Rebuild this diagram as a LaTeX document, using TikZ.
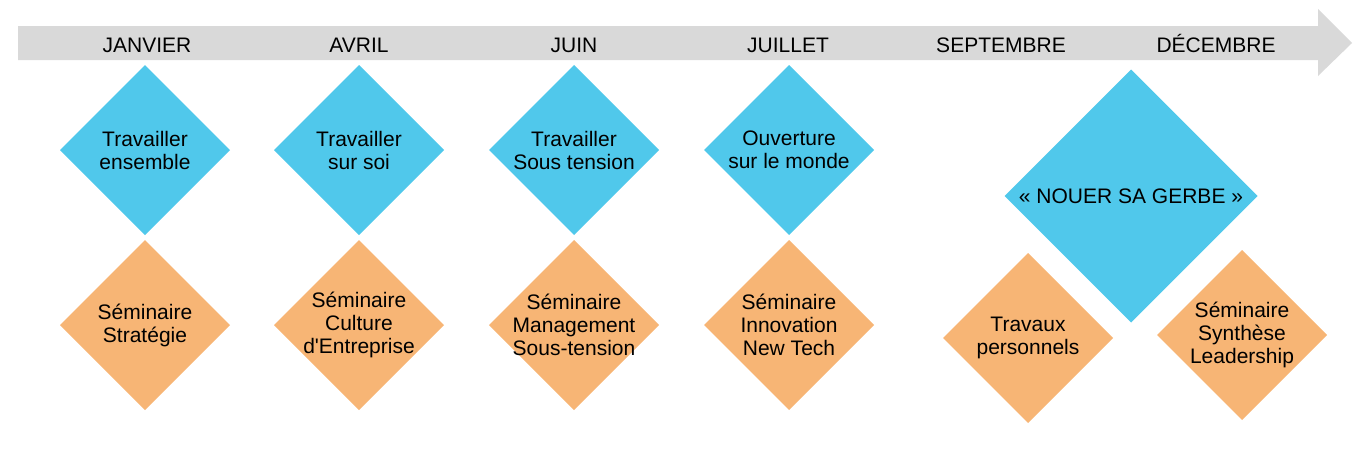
\documentclass[tikz,border=0pt]{standalone}
\usepackage{fontspec}
\setmainfont{Liberation Sans}[Ligatures=TeXOff]
\usetikzlibrary{shapes.geometric}
\definecolor{gemblue}{RGB}{80,200,235}
\definecolor{gemorange}{RGB}{247,181,117}
\definecolor{timegray}{RGB}{217,217,217}

\begin{document}
\begin{tikzpicture}[x=1pt, y=-1pt,
    gem/.style={diamond, minimum width=170pt, minimum height=170pt, inner sep=0pt, outer sep=0pt},
    biggem/.style={diamond, minimum width=253pt, minimum height=253pt, inner sep=0pt, outer sep=0pt},
    gemtext/.style={align=center, inner sep=0pt, font=\fontsize{21}{23}\selectfont},
    month/.style={anchor=base, inner sep=0pt, font=\fontsize{21}{23}\selectfont}]
    \useasboundingbox (0,0) rectangle (1371,461);

    % Timeline arrow
    \fill[timegray] (18,26) -- (1318,26) -- (1318,9) -- (1352,43) -- (1318,76) -- (1318,60) -- (18,60) -- cycle;

    % Months
    \node[month] (jan) at (147,52) {JANVIER};
    \node[month] (apr) at (359,52) {AVRIL};
    \node[month] (jun) at (574,52) {JUIN};
    \node[month] (jul) at (788,52) {JUILLET};
    \node[month] (sep) at (1001,52) {SEPTEMBRE};
    \node[month] (dec) at (1216,52) {DÉCEMBRE};

    % Themes
    \node[gem, fill=gemblue] (jan-theme) at (145,150) {};
    \node[gemtext] (jan-theme-txt) at (jan-theme) {Travailler\\ensemble};
    \node[gem, fill=gemblue] (apr-theme) at (359,150) {};
    \node[gemtext] (apr-theme-txt) at (apr-theme) {Travailler\\sur soi};
    \node[gem, fill=gemblue] (jun-theme) at (574,150) {};
    \node[gemtext] (jun-theme-txt) at (jun-theme) {Travailler\\Sous tension};
    \node[gem, fill=gemblue] (jul-theme) at (789,150) {};
    \node[gemtext] (jul-theme-txt) at (jul-theme) {Ouverture\\sur le monde};
    \node[biggem, fill=gemblue] (dec-theme) at (1131,196) {};
    \node[gemtext] (dec-theme-txt) at (dec-theme) {« NOUER SA GERBE »};

    % Seminars
    \node[gem, fill=gemorange] (jan-sem) at (145,325) {};
    \node[gemtext] (jan-sem-txt) at (jan-sem) {Séminaire\\Stratégie};
    \node[gem, fill=gemorange] (apr-sem) at (359,325) {};
    \node[gemtext] (apr-sem-txt) at (apr-sem) {Séminaire\\Culture\\d'Entreprise};
    \node[gem, fill=gemorange] (jun-sem) at (574,325) {};
    \node[gemtext] (jun-sem-txt) at (jun-sem) {Séminaire\\Management\\Sous-tension};
    \node[gem, fill=gemorange] (jul-sem) at (789,325) {};
    \node[gemtext] (jul-sem-txt) at (jul-sem) {Séminaire\\Innovation\\New Tech};
    \node[gem, fill=gemorange] (sep-sem) at (1028,338) {};
    \node[gemtext] (sep-sem-txt) at (sep-sem) {Travaux\\personnels};
    \node[gem, fill=gemorange] (dec-sem) at (1242,335) {};
    \node[gemtext] (dec-sem-txt) at (dec-sem) {Séminaire\\Synthèse\\Leadership};
\end{tikzpicture}
\end{document}
